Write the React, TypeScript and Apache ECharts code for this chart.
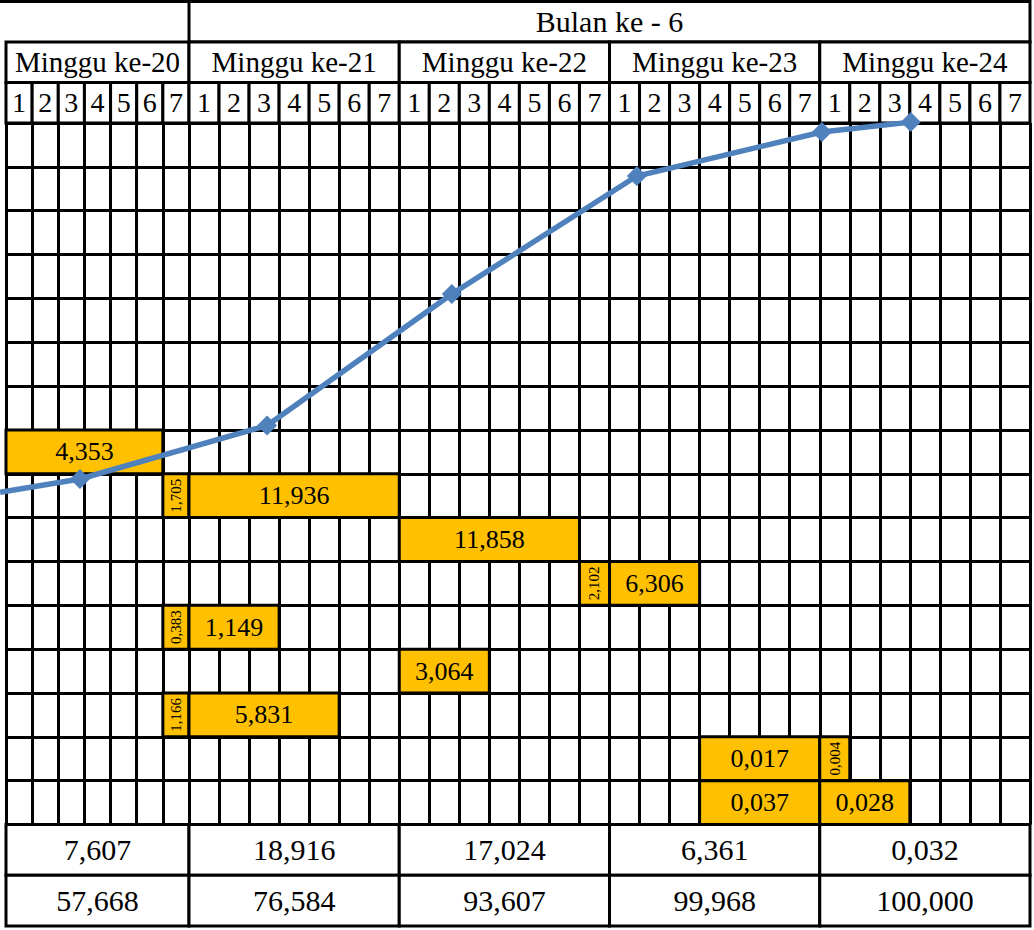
import React, { useEffect, useRef } from "react";
import * as echarts from "echarts";

// ---------- data ----------
const monthLabel = "Bulan ke - 6";
const weekLabels = ["Minggu ke-20", "Minggu ke-21", "Minggu ke-22", "Minggu ke-23", "Minggu ke-24"];
const dayLabels = ["1", "2", "3", "4", "5", "6", "7"];
const weeklyProgress = [7.607, 18.916, 17.024, 6.361, 0.032];
const cumulativeProgress = [57.668, 76.584, 93.607, 99.968, 100.0];

// tasks: body row (0 = top), start day / end day counted from day 1 of week 20
const taskRow = [7, 8, 8, 9, 10, 10, 11, 11, 12, 13, 13, 14, 14, 15, 15];
const taskStartDay = [0, 6, 7, 14, 20, 21, 6, 7, 14, 6, 7, 24, 28, 24, 28];
const taskEndDay = [6, 7, 14, 20, 21, 24, 7, 10, 17, 7, 12, 28, 29, 28, 31];
const taskWeight = [4.353, 1.705, 11.936, 11.858, 2.102, 6.306, 0.383, 1.149, 3.064, 1.166, 5.831, 0.017, 0.004, 0.037, 0.028];

// S-curve (day counted from week 21 start, body row position)
const curveDay = [-6.29, -3.63, 2.6, 8.75, 14.91, 21.07, 24.03];
const curveRow = [8.42, 8.12, 6.9, 3.9, 1.21, 0.205, -0.02];

// ---------- helpers ----------
const DAYS = dayLabels.length;
const BODY_ROWS = 16;
const FONT = '"Liberation Serif", "Times New Roman", serif';
const fmt = (v: number) => v.toFixed(3).replace(".", ",");

type Cell = {
  x0: number; x1: number; y0: number; y1: number;
  text?: string; fontSize?: number; fill?: string; rotate?: boolean; topOnly?: boolean;
};

const makeRender = (cells: Cell[]) => (params: any, api: any) => {
  const c = cells[params.dataIndex];
  const p0 = api.coord([c.x0, c.y0]);
  const p1 = api.coord([c.x1, c.y1]);
  const x = p0[0], y = p0[1], w = p1[0] - p0[0], h = p1[1] - p0[1];
  const children: any[] = [];
  if (c.topOnly) {
    children.push({
      type: "line",
      shape: { x1: x - 6, y1: y, x2: x + w, y2: y },
      style: { stroke: "#000", lineWidth: 3 },
    });
  } else {
    children.push({
      type: "rect",
      shape: { x, y, width: w, height: h },
      style: { fill: c.fill || "#fff", stroke: "#000", lineWidth: 3 },
    });
  }
  if (c.text) {
    children.push({
      type: "text",
      x: x + w / 2,
      y: y + h / 2,
      rotation: c.rotate ? Math.PI / 2 : 0,
      style: {
        text: c.text,
        fill: "#000",
        fontSize: c.fontSize,
        fontFamily: FONT,
        align: "center",
        verticalAlign: "middle",
      },
    });
  }
  return { type: "group", children };
};

const customSeries = (cells: Cell[], idx: number, z: number) => ({
  type: "custom",
  xAxisIndex: idx,
  yAxisIndex: idx,
  silent: true,
  z,
  clip: false,
  renderItem: makeRender(cells),
  encode: { x: [0, 1], y: [2, 3] },
  data: cells.map((c) => [c.x0, c.x1, c.y0, c.y1]),
});

export default function App() {
  const ref = useRef<HTMLDivElement>(null);

  useEffect(() => {
    if (!ref.current) return;
    const chart = echarts.init(ref.current, undefined, { renderer: "svg" });

    // header cells
    const headA: Cell[] = [
      { x0: 0, x1: DAYS, y0: 0, y1: 1, topOnly: true },
      { x0: 0, x1: DAYS, y0: 1, y1: 2, text: weekLabels[0], fontSize: 29 },
      ...dayLabels.map((d, i) => ({ x0: i, x1: i + 1, y0: 2, y1: 3, text: d, fontSize: 28 })),
    ];
    const headB: Cell[] = [{ x0: 0, x1: DAYS * 4, y0: 0, y1: 1, text: monthLabel, fontSize: 30 }];
    for (let w = 1; w < weekLabels.length; w++) {
      const s = (w - 1) * DAYS;
      headB.push({ x0: s, x1: s + DAYS, y0: 1, y1: 2, text: weekLabels[w], fontSize: 29 });
      dayLabels.forEach((d, i) =>
        headB.push({ x0: s + i, x1: s + i + 1, y0: 2, y1: 3, text: d, fontSize: 28 })
      );
    }

    // body bars
    const bodyA: Cell[] = [];
    const bodyB: Cell[] = [];
    taskRow.forEach((r, i) => {
      const narrow = taskEndDay[i] - taskStartDay[i] === 1;
      const inA = taskStartDay[i] < DAYS;
      const off = inA ? 0 : DAYS;
      const cell: Cell = {
        x0: taskStartDay[i] - off,
        x1: taskEndDay[i] - off,
        y0: r,
        y1: r + 1,
        text: fmt(taskWeight[i]),
        fontSize: narrow ? 15 : 26,
        fill: "#FFC000",
        rotate: narrow,
      };
      (inA ? bodyA : bodyB).push(cell);
    });

    // footer
    const footA: Cell[] = [
      { x0: 0, x1: DAYS, y0: 0, y1: 1, text: fmt(weeklyProgress[0]), fontSize: 30 },
      { x0: 0, x1: DAYS, y0: 1, y1: 2, text: fmt(cumulativeProgress[0]), fontSize: 30 },
    ];
    const footB: Cell[] = [];
    for (let w = 1; w < weekLabels.length; w++) {
      const s = (w - 1) * DAYS;
      footB.push({ x0: s, x1: s + DAYS, y0: 0, y1: 1, text: fmt(weeklyProgress[w]), fontSize: 30 });
      footB.push({ x0: s, x1: s + DAYS, y0: 1, y1: 2, text: fmt(cumulativeProgress[w]), fontSize: 30 });
    }

    const W = 1034, H = 930;
    const LEFT_A = 6, WIDTH_A = 183, LEFT_B = 189, WIDTH_B = 841;
    const HEAD_TOP = 1.5, HEAD_H = 121.5;
    const BODY_TOP = 123, BODY_H = 701.5;
    const FOOT_TOP = 824.5, FOOT_H = 101.5;

    // overlay grid for the S-curve covering the whole page, aligned with grid B's day/row units
    const dayW = WIDTH_B / (DAYS * 4);
    const rowH = BODY_H / BODY_ROWS;

    const grid = [
      { left: LEFT_A, top: HEAD_TOP, width: WIDTH_A, height: HEAD_H },
      { left: LEFT_B, top: HEAD_TOP, width: WIDTH_B, height: HEAD_H },
      { left: LEFT_A, top: BODY_TOP, width: WIDTH_A, height: BODY_H },
      { left: LEFT_B, top: BODY_TOP, width: WIDTH_B, height: BODY_H },
      { left: LEFT_A, top: FOOT_TOP, width: WIDTH_A, height: FOOT_H },
      { left: LEFT_B, top: FOOT_TOP, width: WIDTH_B, height: FOOT_H },
      { left: 0, top: 0, width: W, height: H },
    ];

    const hiddenX = (gi: number, min: number, max: number) => ({
      type: "value", gridIndex: gi, min, max, show: false, scale: true,
    });
    const hiddenY = (gi: number, min: number, max: number) => ({
      type: "value", gridIndex: gi, min, max, inverse: true, show: false, scale: true,
    });
    const gridLine = { show: true, lineStyle: { color: "#000", width: 3 } };
    const bodyX = (gi: number, max: number) => ({
      type: "value", gridIndex: gi, min: 0, max, interval: 1,
      axisLine: { show: false }, axisTick: { show: false }, axisLabel: { show: false },
      splitLine: gridLine,
    });
    const bodyY = (gi: number) => ({
      type: "value", gridIndex: gi, min: 0, max: BODY_ROWS, interval: 1, inverse: true,
      axisLine: { show: false }, axisTick: { show: false }, axisLabel: { show: false },
      splitLine: gridLine,
    });

    chart.setOption({
      animation: false,
      backgroundColor: "#fff",
      grid,
      xAxis: [
        hiddenX(0, 0, DAYS), hiddenX(1, 0, DAYS * 4),
        bodyX(2, DAYS), bodyX(3, DAYS * 4),
        hiddenX(4, 0, DAYS), hiddenX(5, 0, DAYS * 4),
        hiddenX(6, -LEFT_B / dayW, (W - LEFT_B) / dayW),
      ],
      yAxis: [
        hiddenY(0, 0, 3), hiddenY(1, 0, 3),
        bodyY(2), bodyY(3),
        hiddenY(4, 0, 2), hiddenY(5, 0, 2),
        hiddenY(6, -BODY_TOP / rowH, (H - BODY_TOP) / rowH),
      ],
      series: [
        customSeries(headA, 0, 2),
        customSeries(headB, 1, 2),
        customSeries(bodyA, 2, 2),
        customSeries(bodyB, 3, 2),
        customSeries(footA, 4, 2),
        customSeries(footB, 5, 2),
        {
          type: "line",
          xAxisIndex: 6,
          yAxisIndex: 6,
          clip: false,
          silent: true,
          z: 10,
          symbol: "diamond",
          symbolSize: 20,
          lineStyle: { color: "#4F81BD", width: 5.5 },
          itemStyle: { color: "#4F81BD" },
          data: curveDay.map((d, i) =>
            i === 0 ? { value: [d, curveRow[i]], symbol: "none" } : { value: [d, curveRow[i]] }
          ),
        },
      ],
    });

    return () => chart.dispose();
  }, []);

  return (
    <div
      ref={ref}
      style={{ position: "fixed", left: 0, top: 0, width: 1034, height: 930, background: "#fff" }}
    />
  );
}
